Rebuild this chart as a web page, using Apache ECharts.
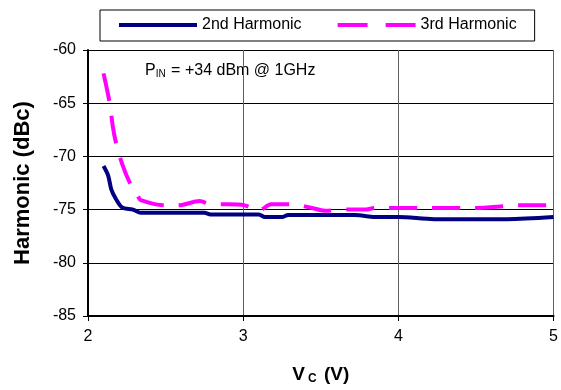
<!DOCTYPE html>
<html><head><meta charset="utf-8">
<script src="https://cdn.jsdelivr.net/npm/echarts@6/dist/echarts.min.js"></script>
<style>html,body{margin:0;padding:0;background:#fff}#c{width:561px;height:390px}</style>
</head><body><div id="c"></div>
<script>
const vc2 = [2.10,2.13,2.15,2.18,2.22,2.29,2.34,2.50,2.75,2.79,3.00,3.10,3.14,3.25,3.29,3.50,3.72,3.85,4.00,4.23,4.50,4.70,5.00];
const h2  = [-70.9,-71.8,-73.1,-74.0,-74.8,-75.0,-75.3,-75.3,-75.3,-75.45,-75.45,-75.45,-75.7,-75.7,-75.5,-75.5,-75.5,-75.7,-75.7,-75.9,-75.9,-75.9,-75.7];
const vc3 = [2.10,2.14,2.16,2.18,2.22,2.27,2.32,2.34,2.50,2.58,2.72,2.79,2.90,3.01,3.10,3.18,3.32,3.43,3.53,3.67,3.79,3.85,4.19,4.49,4.78,4.96];
const h3  = [-62.2,-65.0,-67.2,-68.7,-70.7,-72.5,-73.7,-74.1,-74.6,-74.6,-74.2,-74.5,-74.5,-74.6,-75.1,-74.5,-74.5,-74.8,-75.1,-75.0,-75.0,-74.85,-74.85,-74.85,-74.6,-74.6];
const seriesNames = ['2nd Harmonic','3rd Harmonic'];
const xTicks = [2,3,4,5];
const yTicks = [-85,-80,-75,-70,-65,-60];

const chart = echarts.init(document.getElementById('c'));
const font = 'Liberation Sans, Arial, sans-serif';
chart.setOption({
  animation:false,
  textStyle:{fontFamily:font},
  grid:{left:88,right:2,top:50,bottom:72,containLabel:false},
  legend:{
    left:100, top:10, padding:[7,18,8,19],
    borderColor:'#000', borderWidth:1,
    itemWidth:78, itemHeight:4, itemGap:36,
    textStyle:{fontSize:16,color:'#000',fontFamily:font},
    data:[
      {name:seriesNames[0], icon:'path://M0,0H78V4H0Z'},
      {name:seriesNames[1], icon:'path://M0,0H30V4H0ZM48,0H78V4H48Z'}
    ]
  },
  xAxis:{
    type:'value', min:xTicks[0], max:xTicks[xTicks.length-1], interval:1,
    name:'{v|V}{s|C}{v| (V)}', nameLocation:'middle', nameGap:48,
    nameTextStyle:{rich:{
      v:{fontSize:19,fontWeight:'bold',color:'#000',fontFamily:font},
      s:{fontSize:12,fontWeight:'bold',color:'#000',fontFamily:font,verticalAlign:'bottom',padding:[9,2,0,3]}
    }},
    axisLine:{lineStyle:{color:'#000',width:2}},
    axisTick:{show:true,length:5,lineStyle:{color:'#000'}},
    axisLabel:{fontSize:16,color:'#000',margin:13,fontFamily:font},
    splitLine:{show:true,lineStyle:{color:'#606060',width:1}}
  },
  yAxis:{
    type:'value', min:yTicks[0], max:yTicks[yTicks.length-1], interval:5,
    name:'Harmonic (dBc)', nameLocation:'middle', nameGap:54,
    nameTextStyle:{fontSize:22,fontWeight:'bold',color:'#000',fontFamily:font},
    axisLine:{show:true,lineStyle:{color:'#000',width:2}},
    axisTick:{show:true,length:5,lineStyle:{color:'#000'}},
    axisLabel:{fontSize:16,color:'#000',margin:12,fontFamily:font},
    splitLine:{show:true,lineStyle:{color:'#000',width:1}}
  },
  graphic:[{
    type:'text', left:145, top:63,
    style:{
      text:'{p|P}{s|IN}{p| = +34 dBm @ 1GHz}',
      rich:{
        p:{fontSize:16,fill:'#000',fontFamily:font},
        s:{fontSize:10,fill:'#000',fontFamily:font,verticalAlign:'bottom',padding:[7,1,0,0]}
      }
    }
  }],
  series:[
    {name:seriesNames[0], type:'line', symbol:'none', smooth:0.3,
     data:vc2.map((x,i)=>[x,h2[i]]),
     lineStyle:{color:'#000080',width:4}, itemStyle:{color:'#000080'}},
    {name:seriesNames[1], type:'line', symbol:'none', smooth:0.3,
     data:vc3.map((x,i)=>[x,h3[i]]),
     lineStyle:{color:'#FF00FF',width:4,type:[28,15]}, itemStyle:{color:'#FF00FF'}}
  ]
});
</script></body></html>
